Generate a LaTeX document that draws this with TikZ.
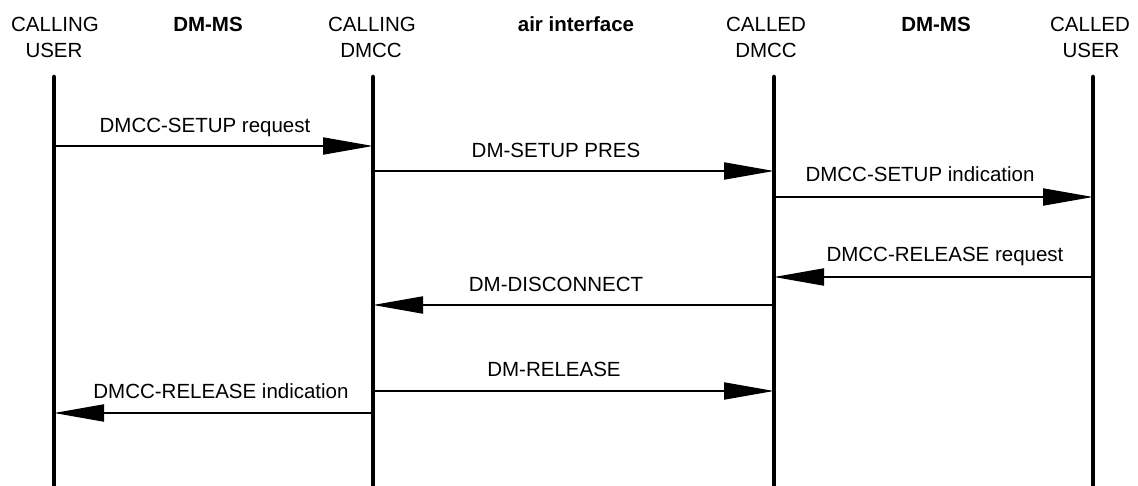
\documentclass[tikz,border=0pt]{standalone}
\usepackage{fontspec}
\setmainfont{Liberation Sans}
\usetikzlibrary{arrows.meta}
\begin{document}
\begin{tikzpicture}[x=1pt,y=-1pt,
  lbl/.style={font=\fontsize{20.5}{25}\selectfont, inner sep=0pt, anchor=base},
  hdr/.style={lbl},
  bhdr/.style={lbl, font=\fontsize{20.5}{25}\selectfont\bfseries},
  life/.style={line width=4.5pt, line cap=round},
  msg/.style={line width=2pt, -{Triangle[length=50pt,width=17pt]}}]
\useasboundingbox (0,0) rectangle (1138,486);
% lifeline tops and bottoms
\coordinate (cuT) at (54,77);   \coordinate (cuB) at (54,492);
\coordinate (cdT) at (373,77);  \coordinate (cdB) at (373,492);
\coordinate (ddT) at (774,77);  \coordinate (ddB) at (774,492);
\coordinate (duT) at (1093,77); \coordinate (duB) at (1093,492);
\draw[life] (cuT) -- (cuB);
\draw[life] (cdT) -- (cdB);
\draw[life] (ddT) -- (ddB);
\draw[life] (duT) -- (duB);
% headers
\node[hdr] (h1a) at (55,32) {CALLING};
\node[hdr] (h1b) at (54,58) {USER};
\node[bhdr] (h2) at (208,32) {DM-MS};
\node[hdr] (h3a) at (372,32) {CALLING};
\node[hdr] (h3b) at (371,58) {DMCC};
\node[bhdr] (h4) at (576,32) {air interface};
\node[hdr] (h5a) at (766,32) {CALLED};
\node[hdr] (h5b) at (766,58) {DMCC};
\node[bhdr] (h6) at (936,32) {DM-MS};
\node[hdr] (h7a) at (1090,32) {CALLED};
\node[hdr] (h7b) at (1091,58) {USER};
% message end points (at lifeline edges)
\coordinate (m1s) at (56,146);   \coordinate (m1e) at (373,146);
\coordinate (m2s) at (375,171);  \coordinate (m2e) at (774,171);
\coordinate (m3s) at (776,197);  \coordinate (m3e) at (1093,197);
\coordinate (m4s) at (1091,277); \coordinate (m4e) at (774,277);
\coordinate (m5s) at (772,305);  \coordinate (m5e) at (373,305);
\coordinate (m6s) at (375,391);  \coordinate (m6e) at (774,391);
\coordinate (m7s) at (371,413);  \coordinate (m7e) at (54,413);
\draw[msg] (m1s) -- (m1e);
\draw[msg] (m2s) -- (m2e);
\draw[msg] (m3s) -- (m3e);
\draw[msg] (m4s) -- (m4e);
\draw[msg] (m5s) -- (m5e);
\draw[msg] (m6s) -- (m6e);
\draw[msg] (m7s) -- (m7e);
% labels
\node[lbl] (l1) at (205,133) {DMCC-SETUP request};
\node[lbl] (l2) at (556,158) {DM-SETUP PRES};
\node[lbl] (l3) at (920,182) {DMCC-SETUP indication};
\node[lbl] (l4) at (945,262) {DMCC-RELEASE request};
\node[lbl] (l5) at (556,292) {DM-DISCONNECT};
\node[lbl] (l6) at (554,376) {DM-RELEASE};
\node[lbl] (l7) at (221,398) {DMCC-RELEASE indication};
\end{tikzpicture}
\end{document}
